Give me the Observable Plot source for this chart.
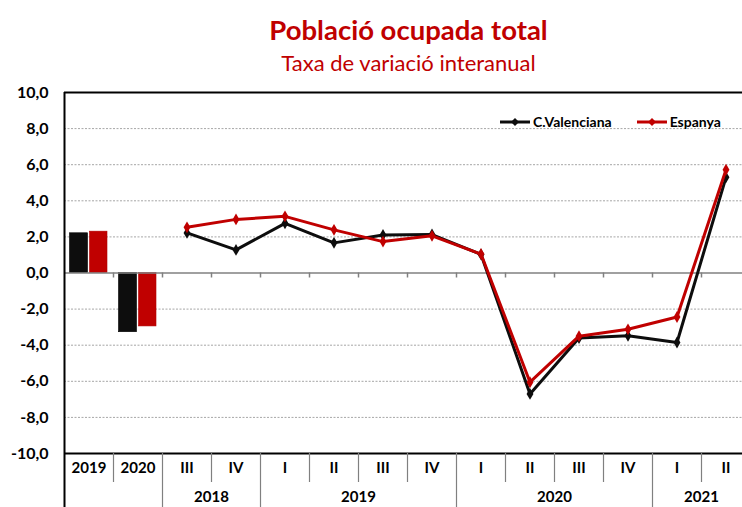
<!DOCTYPE html>
<html><head><meta charset="utf-8">
<script src="https://cdn.jsdelivr.net/npm/d3@7"></script>
<script src="https://cdn.jsdelivr.net/npm/@observablehq/plot@0.6"></script>
<style>
body{margin:0;background:#fff;overflow:hidden;font-family:Lato,"Open Sans",sans-serif;}
#wrap{position:relative;width:742px;height:507px;overflow:hidden;}
#legend{position:absolute;top:113px;left:499px;display:flex;align-items:center;font-weight:bold;font-size:14px;color:#000;}
#legend .item{display:flex;align-items:center;margin-right:24px;}
#legend svg{display:block;margin-right:2px;}
</style></head><body><div id="wrap"><div id="legend"></div></div>
<script>
const title = "Població ocupada total";
const subtitle = "Taxa de variació interanual";
const seriesNames = ["C.Valenciana", "Espanya"];
const seriesColors = ["#0d0d0d", "#c00000"];

const categories = ["2019","2020","2018 III","2018 IV","2019 I","2019 II","2019 III","2019 IV","2020 I","2020 II","2020 III","2020 IV","2021 I","2021 II"];
const categoryLabels = ["2019","2020","III","IV","I","II","III","IV","I","II","III","IV","I","II"];

const annualYears = ["2019","2020"];
const annualCV = [2.2, -3.28];
const annualES = [2.29, -2.96];

const quarters = ["2018 III","2018 IV","2019 I","2019 II","2019 III","2019 IV","2020 I","2020 II","2020 III","2020 IV","2021 I","2021 II"];
const quarterCV = [2.22, 1.28, 2.75, 1.67, 2.11, 2.13, 1.03, -6.7, -3.6, -3.48, -3.85, 5.3];
const quarterES = [2.53, 2.97, 3.14, 2.39, 1.74, 2.06, 1.05, -6.05, -3.5, -3.12, -2.44, 5.72];

const yearLabels = ["2018","2019","2020","2021"];
const yearSplitAt = ["2018 IV","2019 III","2020 III","2021 II"];
const groupStarts = ["2018 III","2019 I","2020 I","2021 I"];
const yTicks = [-10,-8,-6,-4,-2,0,2,4,6,8,10];

const X0 = 64, X1 = 750;
const bw = (X1 - X0) / categories.length;

const shortSeps = categories.slice(1).filter(c => !groupStarts.includes(c));

const bars = [
  ...annualYears.map((y, i) => ({cat: y, v: annualCV[i], s: 0})),
  ...annualYears.map((y, i) => ({cat: y, v: annualES[i], s: 1}))
];
const lineCV = quarters.map((q, i) => ({cat: q, v: quarterCV[i]}));
const lineES = quarters.map((q, i) => ({cat: q, v: quarterES[i]}));

const fmt = d => d.toFixed(1).replace(".", ",");
const font = "Lato, 'Open Sans', sans-serif";

const chart = Plot.plot({
  width: 742, height: 507,
  marginTop: 92, marginBottom: 54, marginLeft: X0, marginRight: 0,
  style: {fontFamily: font, background: "#fff", overflow: "visible"},
  x: {type: "band", domain: categories, range: [X0, X1], padding: 0, axis: null},
  y: {domain: [-10, 10], axis: null},
  marks: [
    Plot.ruleY(yTicks.filter(d => d !== 0 && Math.abs(d) !== 10), {stroke: "#a6a6a6", strokeWidth: 1, strokeDasharray: "2,1.5"}),
    Plot.barY(bars.filter(d => d.s === 0), {x: "cat", y: "v", fill: seriesColors[0], stroke: "#000", strokeWidth: 0.6, insetLeft: 5.5, insetRight: 25.5}),
    Plot.barY(bars.filter(d => d.s === 1), {x: "cat", y: "v", fill: seriesColors[1], stroke: "#b00000", strokeWidth: 0.6, insetLeft: 25.5, insetRight: 6}),
    Plot.ruleY([0], {stroke: "#808080", strokeWidth: 1.5}),
    Plot.ruleX(categories.slice(1), {x: d => d, dx: -bw / 2, y1: 0, y2: 0, insetTop: 0, insetBottom: -5, stroke: "#808080", strokeWidth: 1.5}),
    Plot.ruleY([10, -10], {stroke: "#000", strokeWidth: 2}),
    Plot.ruleX([categories[0]], {x: d => d, dx: -bw / 2, insetBottom: -54, stroke: "#000", strokeWidth: 2}),
    Plot.ruleX(shortSeps, {x: d => d, dx: -bw / 2, insetTop: 361, insetBottom: -29, stroke: "#808080", strokeWidth: 1.2}),
    Plot.ruleX(groupStarts, {x: d => d, dx: -bw / 2, insetTop: 361, insetBottom: -54, stroke: "#808080", strokeWidth: 1.2}),
    Plot.line(lineCV, {x: "cat", y: "v", stroke: seriesColors[0], strokeWidth: 3}),
    Plot.dot(lineCV, {x: "cat", y: "v", fill: seriesColors[0], symbol: "diamond", r: 3.6}),
    Plot.line(lineES, {x: "cat", y: "v", stroke: seriesColors[1], strokeWidth: 3}),
    Plot.dot(lineES, {x: "cat", y: "v", fill: seriesColors[1], symbol: "diamond", r: 3.6}),
    Plot.text(yTicks, {y: d => d, text: d => fmt(d), frameAnchor: "left", dx: -16, textAnchor: "end", lineAnchor: "middle", fontWeight: "bold", fontSize: 16, fill: "#000"}),
    Plot.text(categories, {x: d => d, text: (d, i) => categoryLabels[i], frameAnchor: "bottom", lineAnchor: "middle", dy: 15, fontWeight: "bold", fontSize: 15, fill: "#000"}),
    Plot.text(yearLabels, {x: (d, i) => yearSplitAt[i], text: d => d, dx: -bw / 2, frameAnchor: "bottom", lineAnchor: "middle", dy: 44, fontWeight: "bold", fontSize: 15, fill: "#000"}),
    Plot.text([title], {text: d => d, frameAnchor: "top", lineAnchor: "middle", dx: 5, dy: -61, fontWeight: "bold", fontSize: 27.5, fill: "#c00000"}),
    Plot.text([subtitle], {text: d => d, frameAnchor: "top", lineAnchor: "middle", dx: 5, dy: -29, fontSize: 22, fill: "#c00000"})
  ]
});
document.getElementById("wrap").prepend(chart);

const legend = document.getElementById("legend");
seriesNames.forEach((name, i) => {
  const item = document.createElement("div");
  item.className = "item";
  const c = seriesColors[i];
  item.innerHTML = `<svg width="32" height="12"><line x1="1" y1="6" x2="31" y2="6" stroke="${c}" stroke-width="3"/><path d="M16,2 L20,6 L16,10 L12,6 Z" fill="${c}"/></svg><span>${name}</span>`;
  legend.appendChild(item);
});
</script>
</body></html>
